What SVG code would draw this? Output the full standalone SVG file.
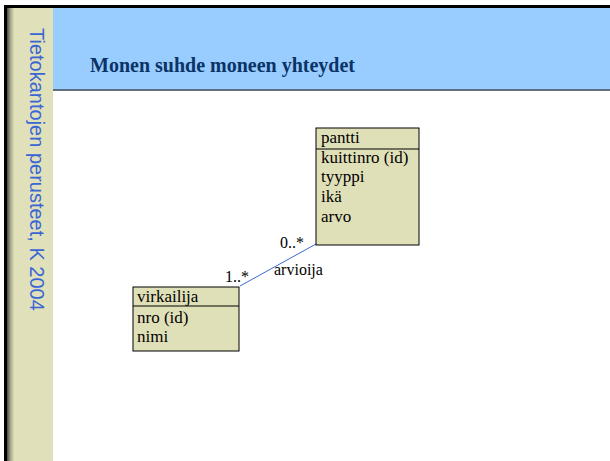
<svg xmlns="http://www.w3.org/2000/svg" width="610" height="461" viewBox="0 0 610 461">
<defs>
<linearGradient id="shade" x1="0" y1="0" x2="1" y2="0">
<stop offset="0" stop-color="#4a4a3a"/>
<stop offset="0.3" stop-color="#a8a88c"/>
<stop offset="0.6" stop-color="#e0e0bb"/>
<stop offset="1" stop-color="#e0e0bb"/>
</linearGradient>
</defs>
<style>
.box{fill:#e0e0b8;stroke:#000;stroke-width:1}
.t{font-family:"Liberation Serif","Times New Roman",serif;font-size:17px;fill:#000}
.lbl{font-family:"Liberation Serif","Times New Roman",serif;font-size:16px;fill:#000}
.conn{stroke:#3a6ad8;stroke-width:1;fill:none}
</style>
<rect x="0" y="0" width="610" height="461" fill="#fff"/>
<rect x="4" y="5" width="606" height="3" fill="#000"/>
<rect x="4" y="5" width="3" height="456" fill="#000"/>
<rect x="7" y="8" width="46" height="453" fill="#e0e0bb"/>
<rect x="7" y="8" width="12" height="453" fill="url(#shade)"/>
<rect x="53" y="8" width="557" height="82" fill="#99ccff"/>
<rect x="53" y="89" width="557" height="2" fill="#607080"/>
<text x="90" y="72" font-family="Liberation Serif, Times New Roman, serif" font-size="20" font-weight="bold" fill="#0a3366">Monen suhde moneen yhteydet</text>
<text transform="translate(30,28) rotate(90)" font-family="Liberation Sans, Arial, sans-serif" font-size="20" fill="#3a66d4">Tietokantojen perusteet, K 2004</text>
<g id="connectors">
<line class="conn" x1="240" y1="286" x2="316" y2="244"/>
<text class="lbl" x="225" y="282">1..*</text>
<text class="lbl" x="280" y="248">0..*</text>
<text class="lbl" x="274" y="275">arvioija</text>
</g>
<g id="pantti">
<rect class="box" x="316" y="128" width="103" height="117"/>
<line x1="316" y1="149" x2="419" y2="149" stroke="#000"/>
<text class="t" x="321" y="143">pantti</text>
<text class="t" x="321" y="163">kuittinro (id)</text>
<text class="t" x="321" y="182">tyyppi</text>
<text class="t" x="321" y="202">ikä</text>
<text class="t" x="321" y="222">arvo</text>
</g>
<g id="virkailija">
<rect class="box" x="133" y="287" width="106" height="64"/>
<line x1="133" y1="306" x2="239" y2="306" stroke="#000"/>
<text class="t" x="137" y="302">virkailija</text>
<text class="t" x="137" y="323">nro (id)</text>
<text class="t" x="137" y="342">nimi</text>
</g>
</svg>
